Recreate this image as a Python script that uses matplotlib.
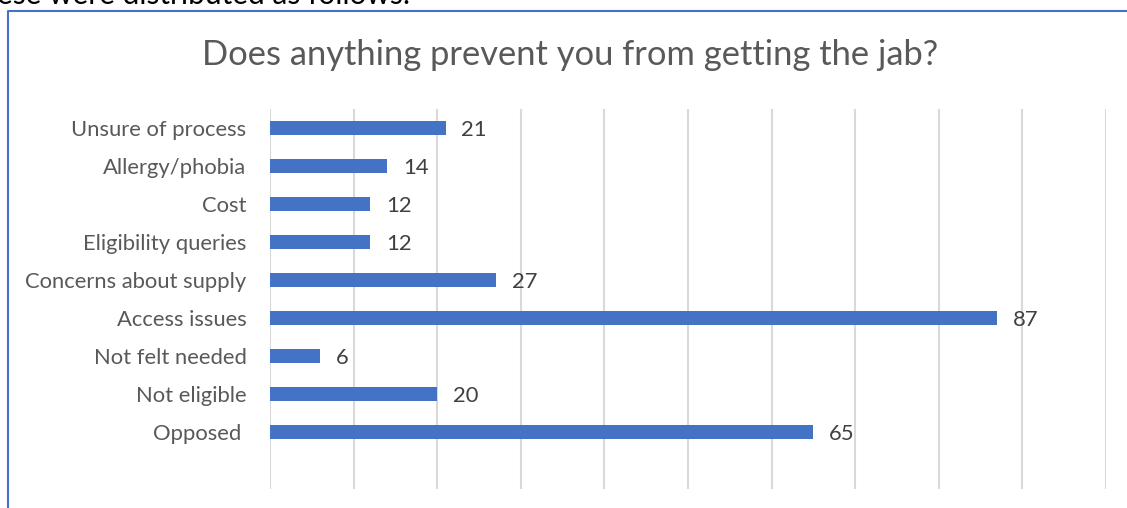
import matplotlib
matplotlib.use('Agg')
import matplotlib.pyplot as plt
from matplotlib.lines import Line2D

categories = ['Unsure of process', 'Allergy/phobia', 'Cost', 'Eligibility queries',
              'Concerns about supply', 'Access issues', 'Not felt needed',
              'Not eligible', 'Opposed ']
counts = [21, 14, 12, 12, 27, 87, 6, 20, 65]
title = 'Does anything prevent you from getting the jab?'

W, H = 1127, 508
plt.rcParams['font.family'] = ['Lato', 'DejaVu Sans']

fig = plt.figure(figsize=(W / 100, H / 100), dpi=100)

# bit of the sentence above the chart, cut off by the page edge
fig.text(-3 / W, 1 - 3.5 / H, 'ese were distributed as follows:', fontsize=21.5,
         color='black', va='baseline', ha='left')

# chart frame (left and top edges)
fig.add_artist(Line2D([7.5 / W, 7.5 / W, 1.0], [0.0, 1 - 10.5 / H, 1 - 10.5 / H],
                      transform=fig.transFigure, color='#4472C4', lw=1.5))

fig.text(570 / W, 1 - 55 / H, title, fontsize=24.8, color='#595959',
         ha='center', va='center')

ax = fig.add_axes([270 / W, 1 - 489 / H, (1106 - 270) / W, (489 - 109) / H])
ypos = list(range(len(categories)))
ax.barh(ypos, counts, height=0.37, color='#4472C4', zorder=3)
for y, v in zip(ypos, counts):
    ax.text(v + 1.9, y + 0.05, str(v), va='center', ha='left', fontsize=15.8,
            color='#404040')

ax.set_xlim(0, 100)
ax.set_ylim(9.5, -0.5)
ax.set_xticks(range(0, 101, 10))
ax.set_xticklabels([])
ax.set_yticks(ypos)
ax.set_yticklabels(categories, fontsize=15.8, color='#595959')
ax.tick_params(length=0, axis='both', pad=17)
ax.grid(axis='x', color='#d9d9d9', lw=1.5, zorder=0)
for s in ax.spines.values():
    s.set_visible(False)

fig.savefig('out.png', dpi=100)
